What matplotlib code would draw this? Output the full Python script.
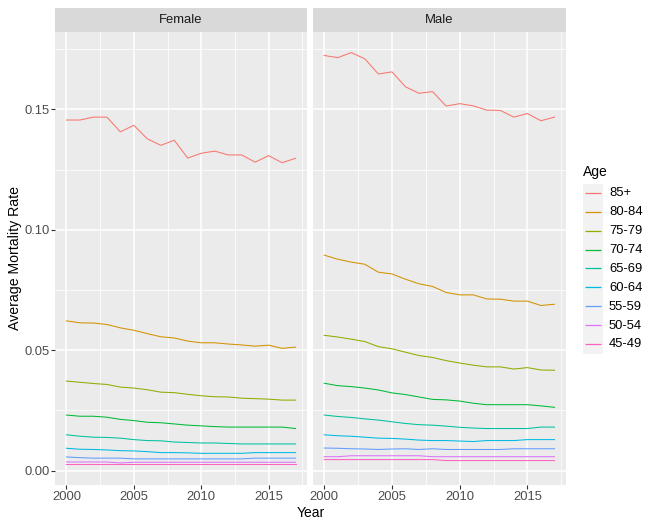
import matplotlib.pyplot as plt
from matplotlib.patches import Rectangle
import numpy as np

plt.rcParams['font.family'] = ['Liberation Sans', 'DejaVu Sans']

years = np.arange(2000, 2018)
ages = ['85+', '80-84', '75-79', '70-74', '65-69', '60-64', '55-59', '50-54', '45-49']
colors = ['#F8766D', '#D39200', '#93AA00', '#00BA38', '#00C19F',
          '#00B9E3', '#619CFF', '#DB72FB', '#FF61C3']

# average mortality rate per year, women
f_85plus = [0.1456, 0.1456, 0.1468, 0.1468, 0.1407, 0.1434, 0.1378, 0.1351, 0.1372,
            0.1298, 0.1318, 0.1327, 0.1311, 0.1311, 0.1281, 0.1308, 0.1279, 0.1297]
f_80_84 = [0.0622, 0.0614, 0.0613, 0.0607, 0.0593, 0.0583, 0.0569, 0.0556, 0.0551,
           0.0538, 0.0531, 0.0531, 0.0526, 0.0522, 0.0517, 0.0521, 0.0508, 0.0513]
f_75_79 = [0.0372, 0.0367, 0.0362, 0.0358, 0.0347, 0.0343, 0.0336, 0.0326, 0.0324,
           0.0317, 0.0311, 0.0307, 0.0306, 0.0301, 0.0299, 0.0297, 0.0293, 0.0293]
f_70_74 = [0.0231, 0.0226, 0.0226, 0.0222, 0.0213, 0.0208, 0.0201, 0.0199, 0.0194,
           0.0189, 0.0186, 0.0183, 0.0181, 0.0181, 0.0181, 0.0181, 0.0181, 0.0175]
f_65_69 = [0.0149, 0.0143, 0.0139, 0.0138, 0.0135, 0.0129, 0.0125, 0.0124, 0.0119,
           0.0117, 0.0115, 0.0115, 0.0113, 0.0111, 0.0111, 0.0111, 0.0111, 0.0111]
f_60_64 = [0.0093, 0.0089, 0.0088, 0.0086, 0.0083, 0.0082, 0.0079, 0.0075, 0.0075,
           0.0074, 0.0072, 0.0072, 0.0072, 0.0072, 0.0075, 0.0075, 0.0075, 0.0075]
f_55_59 = [0.0057, 0.0054, 0.0052, 0.0052, 0.0052, 0.0049, 0.0049, 0.0049, 0.0049,
           0.0049, 0.0049, 0.0049, 0.0049, 0.0049, 0.0052, 0.0052, 0.0052, 0.0052]
f_50_54 = [0.0036, 0.0036, 0.0036, 0.0036, 0.0032, 0.0035, 0.0035, 0.0035, 0.0035,
           0.0035, 0.0035, 0.0035, 0.0035, 0.0035, 0.0035, 0.0035, 0.0035, 0.0035]
f_45_49 = [0.0026] * 18

# average mortality rate per year, men
m_85plus = [0.1724, 0.1715, 0.1736, 0.1710, 0.1647, 0.1656, 0.1594, 0.1567, 0.1574,
            0.1514, 0.1524, 0.1515, 0.1497, 0.1496, 0.1468, 0.1483, 0.1453, 0.1468]
m_80_84 = [0.0895, 0.0878, 0.0866, 0.0857, 0.0824, 0.0817, 0.0795, 0.0776, 0.0765,
           0.0740, 0.0730, 0.0730, 0.0713, 0.0712, 0.0704, 0.0704, 0.0686, 0.0691]
m_75_79 = [0.0562, 0.0555, 0.0546, 0.0536, 0.0515, 0.0506, 0.0492, 0.0478, 0.0470,
           0.0457, 0.0447, 0.0438, 0.0431, 0.0431, 0.0422, 0.0428, 0.0418, 0.0417]
m_70_74 = [0.0363, 0.0353, 0.0349, 0.0343, 0.0335, 0.0323, 0.0316, 0.0306, 0.0296,
           0.0294, 0.0289, 0.0280, 0.0274, 0.0274, 0.0274, 0.0274, 0.0269, 0.0263]
m_65_69 = [0.0231, 0.0225, 0.0221, 0.0215, 0.0210, 0.0203, 0.0196, 0.0191, 0.0189,
           0.0185, 0.0180, 0.0177, 0.0175, 0.0175, 0.0175, 0.0175, 0.0181, 0.0181]
m_60_64 = [0.0149, 0.0145, 0.0143, 0.0139, 0.0135, 0.0134, 0.0131, 0.0127, 0.0125,
           0.0125, 0.0123, 0.0121, 0.0125, 0.0125, 0.0125, 0.0129, 0.0129, 0.0129]
m_55_59 = [0.0094, 0.0093, 0.0091, 0.0090, 0.0088, 0.0090, 0.0091, 0.0088, 0.0091,
           0.0088, 0.0088, 0.0088, 0.0088, 0.0088, 0.0091, 0.0091, 0.0091, 0.0091]
m_50_54 = [0.0058, 0.0058, 0.0062, 0.0062, 0.0062, 0.0062, 0.0062, 0.0062, 0.0058,
           0.0058, 0.0058, 0.0058, 0.0058, 0.0058, 0.0058, 0.0058, 0.0058, 0.0058]
m_45_49 = [0.0046] * 9 + [0.0042] * 9

female = [f_85plus, f_80_84, f_75_79, f_70_74, f_65_69, f_60_64, f_55_59, f_50_54, f_45_49]
male = [m_85plus, m_80_84, m_75_79, m_70_74, m_65_69, m_60_64, m_55_59, m_50_54, m_45_49]

W, H = 646, 521
fig = plt.figure(figsize=(W / 100, H / 100), dpi=100)


def box(x0, y0, x1, y1):
    # pixel box (top-left origin) -> figure fraction rect
    return [x0 / W, 1 - y1 / H, (x1 - x0) / W, (y1 - y0) / H]


# ggplot-like expansion of 5% on both axes, shared by the facets
all_vals = np.concatenate([np.ravel(female), np.ravel(male)])
lo, hi = all_vals.min(), all_vals.max()
pad = 0.05 * (hi - lo)
ylim = (lo - pad, hi + pad)
xpad = 0.05 * (years[-1] - years[0])
xlim = (years[0] - xpad, years[-1] + xpad)

panels = [('Female', 55, 307, female), ('Male', 312.7, 566, male)]
for i, (name, x0, x1, series) in enumerate(panels):
    ax = fig.add_axes(box(x0, 32, x1, 485))
    ax.set_facecolor('#EBEBEB')
    for sp in ax.spines.values():
        sp.set_visible(False)
    ax.set_xlim(xlim)
    ax.set_ylim(ylim)
    ax.set_xticks([2000, 2005, 2010, 2015])
    ax.set_xticks([2002.5, 2007.5, 2012.5, 2017.5], minor=True)
    ax.set_yticks([0.0, 0.05, 0.10, 0.15])
    ax.set_yticks([0.025, 0.075, 0.125, 0.175], minor=True)
    ax.set_yticklabels(['0.00', '0.05', '0.10', '0.15'])
    ax.grid(which='major', color='white', lw=1.1)
    ax.grid(which='minor', color='white', lw=0.55)
    ax.set_axisbelow(True)
    ax.tick_params(which='major', length=2.6, width=0.8, color='#333333',
                   labelsize=9.4, labelcolor='#4D4D4D', pad=1.5)
    ax.tick_params(which='minor', length=0)
    if i > 0:
        ax.tick_params(left=False, labelleft=False)

    for vals, c in zip(series, colors):
        ax.plot(years, vals, color=c, lw=0.75)

    strip = fig.add_axes(box(x0, 8, x1, 32))
    strip.set_facecolor('#D9D9D9')
    strip.set_xticks([])
    strip.set_yticks([])
    for sp in strip.spines.values():
        sp.set_visible(False)
    strip.text(0.5, 0.5, name, ha='center', va='center', fontsize=9.4,
               color='#1A1A1A', transform=strip.transAxes)

fig.text(15 / W, 1 - 258.5 / H, 'Average Mortality Rate', rotation=90,
         ha='center', va='center', fontsize=10.2, color='black')
fig.text(310.5 / W, 1 - 513 / H, 'Year', ha='center', va='center',
         fontsize=10, color='black')

# legend drawn in its own pixel-space axes
leg = fig.add_axes(box(570, 150, 646, 370))
leg.set_xlim(570, 646)
leg.set_ylim(370, 150)
leg.axis('off')
row0, step = 193.3, 18.9
leg.text(583, 172, 'Age', ha='left', va='center', fontsize=10, color='black')
leg.add_patch(Rectangle((583, row0 - step / 2), 20, step * len(ages),
                        facecolor='#F2F2F2', edgecolor='none'))
for k, (age, c) in enumerate(zip(ages, colors)):
    y = row0 + k * step
    ykey = np.floor(y) + 0.5  # keep key line on a whole pixel row
    leg.plot([585, 601], [ykey, ykey], color=c, lw=0.9, solid_capstyle='butt')
    leg.text(609, y, age, ha='left', va='center', fontsize=9.4, color='black')

fig.savefig('out.png', dpi=100)
